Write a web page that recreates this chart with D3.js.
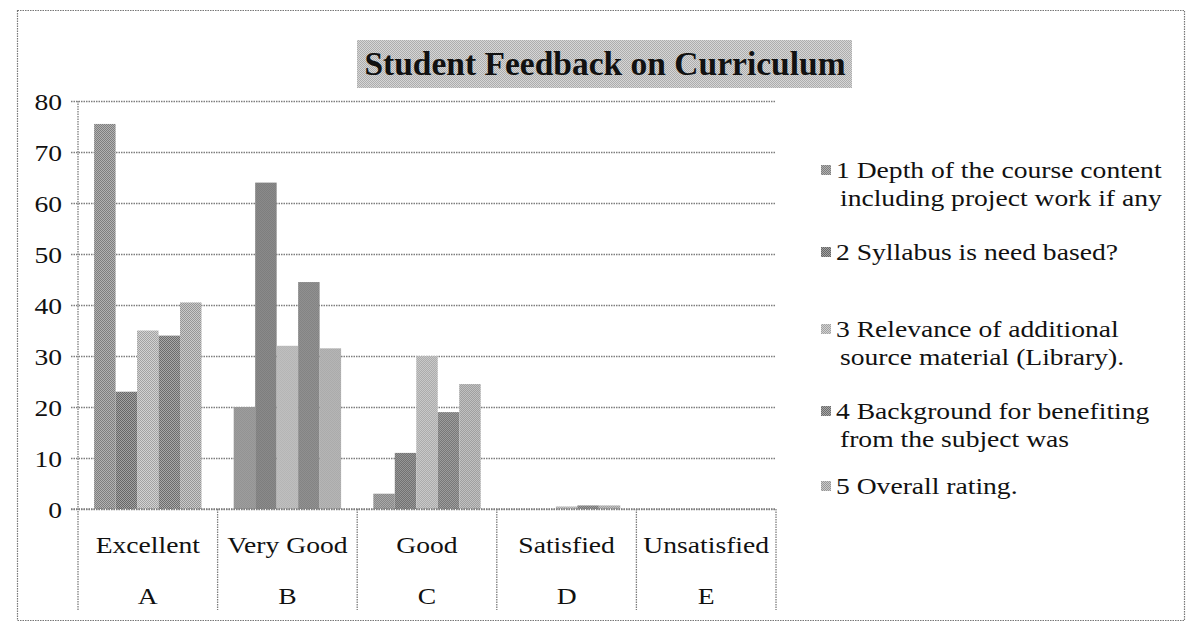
<!DOCTYPE html>
<html>
<head>
<meta charset="utf-8">
<script src="https://cdn.jsdelivr.net/npm/d3@7"></script>
<style>
  html, body { margin: 0; padding: 0; background: #ffffff; }
  svg { display: block; }
  text { font-family: "Liberation Serif", "Times New Roman", serif; fill: #111; }
</style>
</head>
<body>
<svg id="chart" width="1187" height="633"></svg>
<script>
// ---- data ----
const categories = ["Excellent", "Very Good", "Good", "Satisfied", "Unsatisfied"];
const categoryCodes = ["A", "B", "C", "D", "E"];
const seriesNames = [
  ["1 Depth of the course content", "including project work if any"],
  ["2 Syllabus is need based?"],
  ["3 Relevance of additional", "source material (Library)."],
  ["4 Background for benefiting", "from the subject was"],
  ["5 Overall rating."]
];
const depthOfContent   = [75.5, 20, 3, 0, 0];
const syllabusNeed     = [23, 64, 11, 0, 0];
const sourceMaterial   = [35, 32, 30, 0.5, 0];
const background       = [34, 44.5, 19, 0.7, 0];
const overallRating    = [40.5, 31.5, 24.5, 0.7, 0];
const seriesValues = [depthOfContent, syllabusNeed, sourceMaterial, background, overallRating];
const yTicks = [0, 10, 20, 30, 40, 50, 60, 70, 80];
const chartTitle = "Student Feedback on Curriculum";

// ---- styling ----
const tones = [
  { base: "#b2b2b2", dot: "#7e7e7e" },
  { base: "#a2a2a2", dot: "#666666" },
  { base: "#d2d2d2", dot: "#a2a2a2" },
  { base: "#a8a8a8", dot: "#6c6c6c" },
  { base: "#cacaca", dot: "#969696" }
];
const gridColor = "#7d7d7d";
const fontSize = 23;
const stretch = 1.2;   // axis and legend text is set slightly wide

const svg = d3.select("#chart");
const defs = svg.append("defs");

function halftone(id, base, dot) {
  const p = defs.append("pattern")
    .attr("id", id).attr("patternUnits", "userSpaceOnUse")
    .attr("width", 2).attr("height", 2);
  p.append("rect").attr("width", 2).attr("height", 2).attr("fill", base);
  p.append("rect").attr("x", 0).attr("y", 0).attr("width", 1).attr("height", 1).attr("fill", dot);
  p.append("rect").attr("x", 1).attr("y", 1).attr("width", 1).attr("height", 1).attr("fill", dot);
}
tones.forEach((t, i) => halftone("tone" + i, t.base, t.dot));
halftone("titleTone", "#d6d6d6", "#adadad");

// ---- layout ----
const plot = { left: 78, right: 776, top: 101, bottom: 509 };
const labelBottom = 610;

const x = d3.scaleBand().domain(categories).range([plot.left, plot.right]).paddingInner(0).paddingOuter(0);
const xInner = d3.scaleBand().domain(d3.range(seriesValues.length))
  .range([0, x.bandwidth()]).paddingInner(0).paddingOuter(0.75);
const y = d3.scaleLinear().domain([0, 80]).range([plot.bottom, plot.top]);

// outer chart frame
svg.append("rect")
  .attr("x", 17.5).attr("y", 10.5).attr("width", 1167).attr("height", 610)
  .attr("fill", "none").attr("stroke", "#777").attr("stroke-width", 1.2)
  .attr("stroke-dasharray", "1.5,1");

// title with shaded backdrop
svg.append("rect")
  .attr("x", 357).attr("y", 40).attr("width", 495).attr("height", 48)
  .attr("fill", "url(#titleTone)");
svg.append("text")
  .attr("x", 605).attr("y", 75)
  .attr("text-anchor", "middle")
  .attr("font-size", 33.5).attr("font-weight", "bold")
  .text(chartTitle);

// horizontal gridlines and y axis
const yAxis = d3.axisLeft(y).tickValues(yTicks).tickSize(-(plot.right - plot.left + 7)).tickPadding(0).tickFormat(d3.format("d"));
const yg = svg.append("g").attr("transform", `translate(${plot.left - 7},0)`).call(yAxis);
yg.select(".domain").remove();
yg.selectAll(".tick line")
  .attr("stroke", gridColor).attr("stroke-width", 1.3).attr("stroke-dasharray", "1.5,1");
yg.selectAll(".tick text")
  .attr("x", null).attr("dy", null)
  .attr("font-size", fontSize).attr("text-anchor", "end")
  .attr("dominant-baseline", "central")
  .attr("transform", `translate(-9,0) scale(${stretch},1)`)
  .style("font-family", "'Liberation Serif', serif").style("fill", "#111");

// vertical axis line down through the category table
svg.append("line")
  .attr("x1", plot.left).attr("x2", plot.left).attr("y1", plot.top).attr("y2", labelBottom)
  .attr("stroke", gridColor).attr("stroke-width", 1.3).attr("stroke-dasharray", "1.5,1");

// category table dividers
const boundaries = categories.map(c => x(c) + x.bandwidth());
svg.append("g").selectAll("line")
  .data(boundaries)
  .join("line")
  .attr("x1", d => d).attr("x2", d => d)
  .attr("y1", plot.bottom).attr("y2", labelBottom)
  .attr("stroke", gridColor).attr("stroke-width", 1.3).attr("stroke-dasharray", "1.5,1");

// bars
const groups = svg.append("g").selectAll("g")
  .data(categories)
  .join("g")
  .attr("transform", d => `translate(${x(d)},0)`);

groups.selectAll("rect")
  .data((c, ci) => seriesValues.map((vals, si) => ({ si, v: vals[ci] })))
  .join("rect")
  .attr("x", d => xInner(d.si))
  .attr("width", xInner.bandwidth())
  .attr("y", d => y(d.v))
  .attr("height", d => y(0) - y(d.v))
  .attr("fill", d => `url(#tone${d.si})`);

// baseline redrawn over the bar feet
svg.append("line")
  .attr("x1", plot.left - 7).attr("x2", plot.right)
  .attr("y1", plot.bottom).attr("y2", plot.bottom)
  .attr("stroke", gridColor).attr("stroke-width", 1.3).attr("stroke-dasharray", "1.5,1");

// category labels (two rows)
const labelRows = svg.append("g");
categories.forEach((c, i) => {
  const cx = x(c) + x.bandwidth() / 2;
  labelRows.append("text")
    .attr("transform", `translate(${cx},553) scale(${stretch},1)`)
    .attr("text-anchor", "middle").attr("font-size", fontSize)
    .text(c);
  labelRows.append("text")
    .attr("transform", `translate(${cx},604) scale(${stretch},1)`)
    .attr("text-anchor", "middle").attr("font-size", fontSize)
    .text(categoryCodes[i]);
});

// legend
const legendRows = [170, 252, 329, 411, 486];
const legend = svg.append("g");
seriesNames.forEach((lines, i) => {
  const cy = legendRows[i];
  legend.append("rect")
    .attr("x", 821).attr("y", cy - 5).attr("width", 10).attr("height", 10)
    .attr("fill", `url(#tone${i})`);
  lines.forEach((line, li) => {
    legend.append("text")
      .attr("transform", `translate(${li === 0 ? 836 : 840},${cy + 8 + li * 28}) scale(${stretch},1)`)
      .attr("font-size", fontSize)
      .text(line);
  });
});
</script>
</body>
</html>
